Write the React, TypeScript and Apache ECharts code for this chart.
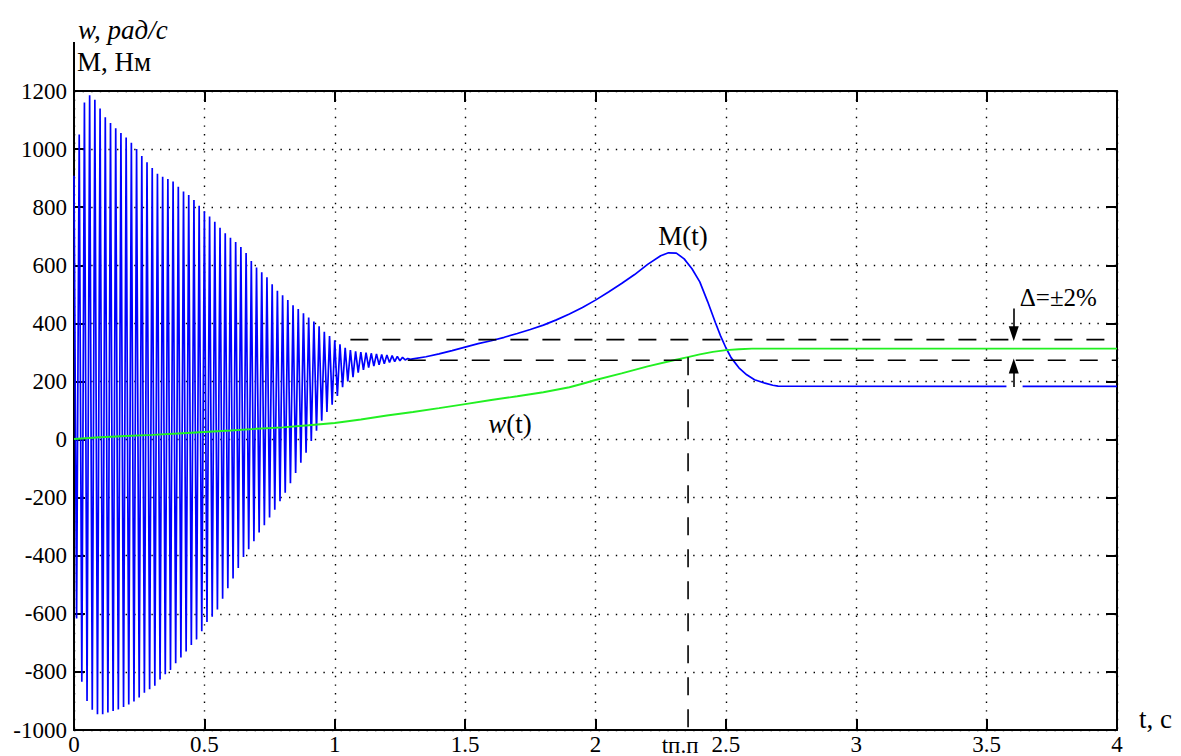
import React, { useEffect, useRef } from "react";
import * as echarts from "echarts";

// ---- axes ----
const X_MIN = 0;
const X_MAX = 4;
const X_STEP = 0.5;
const Y_MIN = -1000;
const Y_MAX = 1200;
const Y_STEP = 200;

// ---- M(t): oscillating start, one peak and one trough per 0.02 s period ----
const OSC_HALF_PERIOD = 0.01;
const mPeaks = [
  908, 1050, 1160, 1185, 1170, 1140, 1110, 1090, 1072, 1055,
  1040, 1022, 1000, 976, 955, 935, 915, 905, 897, 888,
  870, 854, 842, 825, 805, 786, 768, 750, 729, 710,
  695, 680, 663, 642, 615, 592, 576, 559, 535, 512,
  497, 480, 462, 449, 435, 420, 406, 390, 371, 356,
  342, 328, 316, 308, 304, 301, 299, 297, 295, 293,
  291, 289, 286, 283, 279,
];
const mTroughs = [
  -616, -834, -900, -930, -946, -946, -940, -935, -929, -921,
  -912, -902, -888, -872, -860, -848, -826, -808, -793, -770,
  -750, -730, -707, -688, -660, -628, -610, -585, -548, -512,
  -478, -442, -404, -378, -350, -320, -295, -268, -242, -212,
  -183, -150, -115, -80, -45, -5, 30, 65, 95, 120,
  150, 180, 200, 215, 230, 240, 248, 253, 257, 261,
  265, 268, 271, 274, 276,
];
// ---- M(t): smooth part after the oscillations ----
const mTail: [number, number | null][] = [
  [1.3, 278], [1.35, 285], [1.4, 295], [1.45, 306], [1.5, 318], [1.55, 330],
  [1.6, 340], [1.65, 352], [1.7, 365], [1.75, 379], [1.8, 394], [1.85, 412],
  [1.9, 432], [1.95, 455], [2.0, 480], [2.05, 508], [2.1, 537], [2.15, 568],
  [2.2, 603], [2.25, 633], [2.28, 643], [2.31, 642], [2.34, 622], [2.37, 588],
  [2.4, 543], [2.43, 475], [2.46, 402], [2.48, 356], [2.5, 316], [2.52, 282],
  [2.55, 247], [2.58, 223], [2.61, 206], [2.65, 194], [2.68, 187], [2.7, 184],
  [3.576, 183], [3.6, null], [3.638, 183], [4.0, 183],
];

// ---- w(t) ----
const wCurve: [number, number][] = [
  [0, 2], [0.1, 8], [0.2, 12], [0.3, 16], [0.4, 21], [0.5, 26], [0.6, 31],
  [0.7, 37], [0.8, 42], [0.9, 49], [1.0, 57], [1.1, 69], [1.2, 83], [1.3, 95],
  [1.4, 108], [1.5, 122], [1.6, 136], [1.7, 149], [1.8, 163], [1.9, 180],
  [1.95, 192], [2.0, 205], [2.1, 228], [2.2, 252], [2.3, 273], [2.35, 283],
  [2.4, 293], [2.45, 302], [2.5, 308], [2.55, 311], [2.6, 313], [4.0, 313],
];

// ---- tolerance band and settling time ----
const bandUpper = 344;
const bandLower = 273;
const bandUpperStart = 1.06;
const bandLowerStart = 1.28;
const tSettle = 2.355;
const wAtSettle = 283;
const arrowT = 3.604;
const arrowDownFrom = 451;
const arrowUpFrom = 181;

// ---- texts ----
const yTitleTop = "w, рад/с";
const yTitleBottom = "M, Нм";
const xTitle = "t, c";
const settleLabel = "tп.п";
const mLabel = "M(t)";
const deltaLabel = "Δ=±2%";
const mLabelPos: [number, number] = [2.336, 700];
const wLabelPos: [number, number] = [1.672, 53];
const deltaLabelPos: [number, number] = [3.775, 490];

const FONT = "Liberation Serif";

export default function App() {
  const ref = useRef<HTMLDivElement>(null);

  useEffect(() => {
    document.body.style.margin = "0";
    if (!ref.current) return;
    const chart = echarts.init(ref.current, undefined, { renderer: "svg" });

    const mData: [number, number | null][] = [];
    for (let k = 0; k < mPeaks.length; k++) {
      mData.push([+(2 * k * OSC_HALF_PERIOD).toFixed(3), mPeaks[k]]);
      mData.push([+((2 * k + 1) * OSC_HALF_PERIOD).toFixed(3), mTroughs[k]]);
    }
    mTail.forEach((p) => mData.push(p));

    const dash = [18, 14];
    const gridDots = { color: "#000", width: 1.4, type: [1.4, 7.2] as number[] };
    const axisLineStyle = { show: true, onZero: false, lineStyle: { color: "#000", width: 2 } };
    const tick = { show: true, inside: true, length: 11, lineStyle: { color: "#000", width: 2 } };
    const labelFont = { fontFamily: FONT, fontSize: 23, color: "#000" };
    const plain = (v: number) => String(v);

    const option: any = {
      animation: false,
      backgroundColor: "#fff",
      grid: { left: 74, right: 64, top: 91, bottom: 26, containLabel: false },
      xAxis: [
        {
          type: "value", min: X_MIN, max: X_MAX, interval: X_STEP, position: "bottom",
          axisLine: axisLineStyle, axisTick: tick,
          axisLabel: { ...labelFont, margin: 3, formatter: plain, showMinLabel: true, showMaxLabel: true },
          splitLine: { show: true, lineStyle: gridDots },
        },
        {
          type: "value", min: X_MIN, max: X_MAX, interval: X_STEP, position: "top",
          axisLine: axisLineStyle, axisTick: tick, axisLabel: { show: false },
          splitLine: { show: false },
        },
      ],
      yAxis: [
        {
          type: "value", min: Y_MIN, max: Y_MAX, interval: Y_STEP, position: "left",
          axisLine: axisLineStyle, axisTick: tick,
          axisLabel: { ...labelFont, margin: 7, formatter: plain },
          splitLine: { show: true, lineStyle: gridDots },
        },
        {
          type: "value", min: Y_MIN, max: Y_MAX, interval: Y_STEP, position: "right",
          axisLine: axisLineStyle, axisTick: tick, axisLabel: { show: false },
          splitLine: { show: false },
        },
      ],
      series: [
        {
          name: "M", type: "line", data: mData, showSymbol: false, z: 3,
          lineStyle: { color: "#0000ff", width: 1.7 }, connectNulls: false,
        },
        {
          name: "w", type: "line", data: wCurve, showSymbol: false, z: 4,
          lineStyle: { color: "#22f022", width: 1.9 },
        },
        {
          name: "bandUpper", type: "line", data: [[bandUpperStart, bandUpper], [X_MAX, bandUpper]],
          showSymbol: false, z: 5, lineStyle: { color: "#000", width: 1.6, type: dash },
        },
        {
          name: "bandLower", type: "line", data: [[bandLowerStart, bandLower], [X_MAX, bandLower]],
          showSymbol: false, z: 5, lineStyle: { color: "#000", width: 1.6, type: dash },
        },
        {
          name: "settle", type: "line", data: [[tSettle, wAtSettle], [tSettle, Y_MIN]],
          showSymbol: false, z: 5, lineStyle: { color: "#000", width: 1.6, type: dash },
        },
        {
          name: "arrows", type: "line", data: [], z: 6,
          markLine: {
            silent: true, animation: false,
            symbol: ["none", "triangle"], symbolSize: [10, 15],
            lineStyle: { color: "#000", width: 1.6, type: "solid" },
            label: { show: false },
            data: [
              [{ coord: [arrowT, arrowDownFrom] }, { coord: [arrowT, bandUpper + 20] }],
              [{ coord: [arrowT, arrowUpFrom] }, { coord: [arrowT, bandLower - 20] }],
            ],
          },
        },
      ],
    };
    chart.setOption(option);

    const px = (t: number, v: number) => chart.convertToPixel({ gridIndex: 0 }, [t, v]) as number[];
    const [x0, yTop] = px(X_MIN, Y_MAX);
    const [, yBottom] = px(X_MIN, Y_MIN);
    const [xRight] = px(X_MAX, Y_MIN);
    const [xs] = px(tSettle, Y_MIN);
    const mp = px(mLabelPos[0], mLabelPos[1]);
    const wp = px(wLabelPos[0], wLabelPos[1]);
    const dp = px(deltaLabelPos[0], deltaLabelPos[1]);

    const txt = (text: string, x: number, y: number, size: number, italic: boolean, align = "center") => ({
      type: "text", x, y, z: 20,
      style: {
        text, fill: "#000", fontFamily: FONT, fontSize: size, fontStyle: italic ? "italic" : "normal",
        align, verticalAlign: "middle", textAlign: align, textVerticalAlign: "middle",
      },
    });

    chart.setOption({
      graphic: [
        {
          type: "line", z: 20,
          shape: { x1: x0, y1: yTop - 49, x2: x0, y2: yTop },
          style: { stroke: "#000", lineWidth: 2 },
        },
        txt(yTitleTop, x0 + 4, 30, 27, true, "left"),
        txt(yTitleBottom, x0 + 3, 62, 27, false, "left"),
        txt(xTitle, xRight + 22, yBottom - 11, 27, false, "left"),
        txt(settleLabel, xs - 8, yBottom + 15, 23, false, "center"),
        txt(mLabel, mp[0], mp[1], 27, false, "center"),
        txt(deltaLabel, dp[0], dp[1], 25, false, "center"),
        {
          type: "text", x: wp[0], y: wp[1], z: 20,
          style: {
            text: "{i|w}{r|(t)}", align: "center", verticalAlign: "middle",
            textAlign: "center", textVerticalAlign: "middle",
            rich: {
              i: { fontFamily: FONT, fontSize: 27, fontStyle: "italic", fill: "#000", color: "#000" },
              r: { fontFamily: FONT, fontSize: 27, fill: "#000", color: "#000" },
            },
          },
        },
      ],
    });

    return () => chart.dispose();
  }, []);

  return <div ref={ref} style={{ width: 1181, height: 756 }} />;
}
